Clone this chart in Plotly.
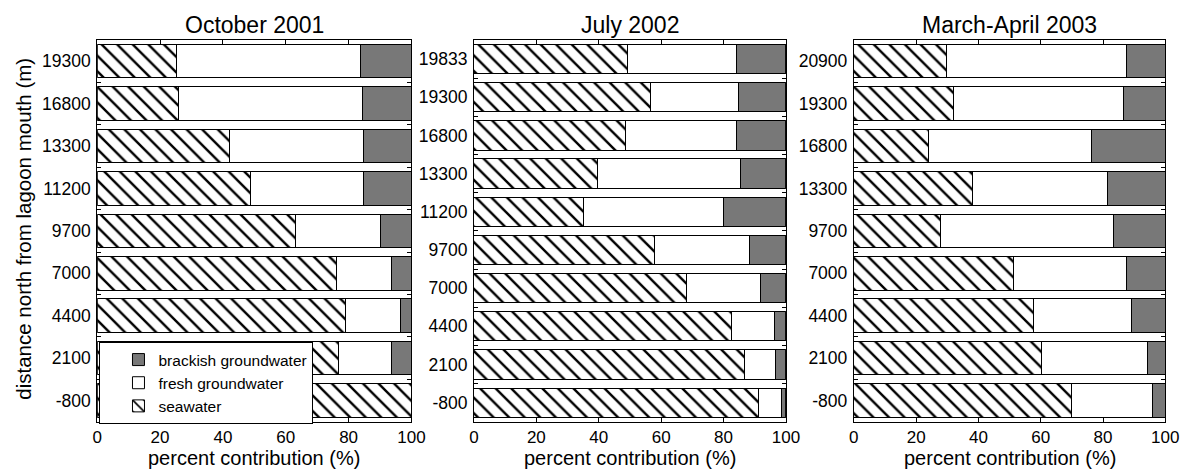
import plotly.graph_objects as go

# Sampling stations (top to bottom) and percent contributions per survey
oct2001_sites = ["19300", "16800", "13300", "11200", "9700", "7000", "4400", "2100", "-800"]
oct2001_seawater = [25.3, 26.0, 42.0, 48.9, 63.2, 76.1, 79.0, 76.7, 100.0]
oct2001_fresh = [58.5, 58.4, 42.6, 35.8, 27.1, 17.5, 17.4, 17.0, 0.0]
oct2001_brackish = [16.2, 15.6, 15.4, 15.3, 9.7, 6.4, 3.6, 6.3, 0.0]

jul2002_sites = ["19833", "19300", "16800", "13300", "11200", "9700", "7000", "4400", "2100", "-800"]
jul2002_seawater = [49.1, 56.5, 48.7, 39.5, 35.0, 58.0, 68.2, 82.4, 86.7, 91.3]
jul2002_fresh = [34.9, 28.4, 35.3, 46.1, 44.9, 30.2, 23.8, 13.8, 9.9, 7.4]
jul2002_brackish = [16.0, 15.1, 16.0, 14.4, 20.1, 11.8, 8.0, 3.8, 3.4, 1.3]

mar2003_sites = ["20900", "19300", "16800", "13300", "9700", "7000", "4400", "2100", "-800"]
mar2003_seawater = [29.7, 32.0, 23.9, 38.0, 27.8, 51.1, 57.7, 60.2, 69.8]
mar2003_fresh = [57.9, 54.6, 52.5, 43.5, 55.7, 36.5, 31.5, 34.1, 26.0]
mar2003_brackish = [12.4, 13.4, 23.6, 18.5, 16.5, 12.4, 10.8, 5.7, 4.2]

panel_titles = ["October 2001", "July 2002", "March-April 2003"]
component_names = ["seawater", "fresh groundwater", "brackish groundwater"]
x_ticks = [0, 20, 40, 60, 80, 100]

panels = [
    (oct2001_sites, oct2001_seawater, oct2001_fresh, oct2001_brackish),
    (jul2002_sites, jul2002_seawater, jul2002_fresh, jul2002_brackish),
    (mar2003_sites, mar2003_seawater, mar2003_fresh, mar2003_brackish),
]

W, H = 1199, 471
FONT = "Liberation Sans, Arial, Helvetica, sans-serif"
# plot-area pixel extents (left, right) for each panel, shared top/bottom
x_px = [(93.7, 413.0), (476.5, 793.5), (862.5, 1179.0)]
top_px, bottom_px = 40.0, 421.7
bar_width = [0.79, 0.765, 0.79]

hatch = dict(shape="\\", fillmode="replace", fgcolor="#000000", fgopacity=1,
             bgcolor="white", size=11, solidity=0.22)
fills = [
    dict(color="white", pattern=hatch),
    dict(color="white"),
    dict(color="#787878"),
]

fig = go.Figure()
for i, (sites, sw, fr, br) in enumerate(panels):
    xa = "x" if i == 0 else f"x{i+1}"
    ya = "y" if i == 0 else f"y{i+1}"
    for name, vals, fill in zip(component_names, [sw, fr, br], fills):
        fig.add_trace(go.Bar(
            x=vals, y=sites, orientation="h", name=name,
            xaxis=xa, yaxis=ya, width=bar_width[i],
            marker=dict(**fill, line=dict(color="black", width=1)),
            showlegend=(i == 0), legendgroup=name, hoverinfo="skip",
        ))

layout = dict(
    width=W, height=H, barmode="stack",
    margin=dict(l=0, r=0, t=0, b=0),
    paper_bgcolor="white", plot_bgcolor="white",
    font=dict(family=FONT, color="black", size=18),
    legend=dict(
        x=96 / W, y=(H - 342) / H, xanchor="left", yanchor="top",
        bgcolor="white", bordercolor="black", borderwidth=1,
        font=dict(size=15.5, family=FONT), traceorder="reversed",
        indentation=18, tracegroupgap=0,
    ),
    annotations=[],
)

ydom = [(H - bottom_px) / H, (H - top_px) / H]
for i in range(3):
    sx = "" if i == 0 else str(i + 1)
    x0, x1 = x_px[i]
    layout[f"xaxis{sx}"] = dict(
        domain=[x0 / W, x1 / W], range=[0, 100], anchor=f"y{sx}",
        tickvals=x_ticks, ticks="inside", ticklen=5, tickcolor="black",
        showline=True, linecolor="black", linewidth=1, mirror="ticks",
        showgrid=False, zeroline=False, tickfont=dict(size=17),
        ticklabelstandoff=0,
    )
    layout[f"yaxis{sx}"] = dict(
        domain=ydom, type="category", autorange="reversed", anchor=f"x{sx}",
        ticks="inside", tickson="boundaries", ticklen=4, tickcolor="black",
        showline=True, linecolor="black", linewidth=1, mirror="ticks",
        showgrid=False, zeroline=False, tickfont=dict(size=17.5),
        ticklabelstandoff=2,
    )
    cx = (x0 + x1) / 2 / W
    layout["annotations"].append(dict(
        text=panel_titles[i], x=cx, y=(H - 25) / H, xref="paper", yref="paper",
        xanchor="center", yanchor="middle", showarrow=False,
        font=dict(size=23, family=FONT),
    ))
    layout["annotations"].append(dict(
        text="percent contribution (%)", x=cx, y=(H - 458) / H,
        xref="paper", yref="paper", xanchor="center", yanchor="middle",
        showarrow=False, font=dict(size=20, family=FONT),
    ))

layout["annotations"].append(dict(
    text="distance north from lagoon mouth (m)", x=18 / W, y=(H - 229) / H,
    xref="paper", yref="paper", xanchor="center", yanchor="middle",
    textangle=-90, showarrow=False, font=dict(size=20.5, family=FONT),
))

fig.update_layout(**layout)
fig.write_html("out.html")
